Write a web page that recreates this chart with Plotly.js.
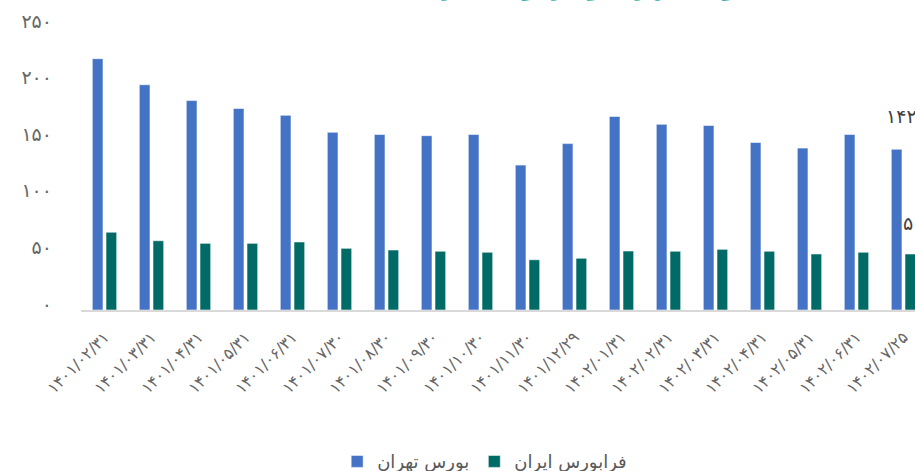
<!DOCTYPE html>
<html>
<head>
<meta charset="utf-8">
<script src="https://cdn.plot.ly/plotly-3.0.1.min.js"></script>
<style>html,body{margin:0;padding:0;background:#fff;}#chart{width:915px;height:471px;}</style>
</head>
<body>
<div id="chart"></div>
<script>
// Categories (dates, Persian calendar)
const categories = [
  "۱۴۰۱/۰۲/۳۱","۱۴۰۱/۰۳/۳۱","۱۴۰۱/۰۴/۳۱","۱۴۰۱/۰۵/۳۱","۱۴۰۱/۰۶/۳۱","۱۴۰۱/۰۷/۳۰",
  "۱۴۰۱/۰۸/۳۰","۱۴۰۱/۰۹/۳۰","۱۴۰۱/۱۰/۳۰","۱۴۰۱/۱۱/۳۰","۱۴۰۱/۱۲/۲۹","۱۴۰۲/۰۱/۳۱",
  "۱۴۰۲/۰۲/۳۱","۱۴۰۲/۰۳/۳۱","۱۴۰۲/۰۴/۳۱","۱۴۰۲/۰۵/۳۱","۱۴۰۲/۰۶/۳۱","۱۴۰۲/۰۷/۲۵"
];
// Series values
const bourseTehran = [222, 199, 185, 178, 172, 157, 155, 154, 155, 128, 147, 171, 164, 163, 148, 143, 155, 142];
const faraBourse   = [68.7, 61.2, 58.9, 58.9, 60.1, 54.5, 53, 51.9, 51, 44.4, 45.7, 52.1, 51.9, 53.6, 51.9, 49.5, 51, 49.5];
// Series names
const seriesNames = ["بورس تهران", "فرابورس ایران"];
// Y tick values and labels
const yTickVals = [0, 50, 100, 150, 200, 250];
const yTickText = ["۰", "۵۰", "۱۰۰", "۱۵۰", "۲۰۰", "۲۵۰"];
// Visible data labels for last point
const lastLabels = ["۱۴۲", "۵۰"];
const titleText = "ارزش بازار بورس تهران و فرابورس ایران";

const idx = categories.map((_, i) => i);
const font = "DejaVu Sans, Noto Sans, sans-serif";

const traces = [
  {type: "bar", name: seriesNames[0], x: idx, y: bourseTehran,
   marker: {color: "#4472C4", line: {color: "rgba(255,255,255,0.55)", width: 1}}, hoverinfo: "skip"},
  {type: "bar", name: seriesNames[1], x: idx, y: faraBourse,
   marker: {color: "#006B66", line: {color: "rgba(255,255,255,0.55)", width: 1}}, hoverinfo: "skip"}
];

const last = categories.length - 1;
const layout = {
  width: 915, height: 471,
  margin: {l: 81, r: 0, t: 27, b: 161, autoexpand: false},
  paper_bgcolor: "#fff", plot_bgcolor: "#fff",
  barmode: "group", bargap: 0.417, bargroupgap: 0.22,
  showlegend: true,
  legend: {orientation: "h", x: 0.484, xanchor: "center", y: -0.536, yanchor: "middle",
           font: {family: font, size: 18, color: "#595959"}, traceorder: "normal"},
  xaxis: {
    range: [-0.5, 17.245], tickmode: "array", tickvals: idx, ticktext: categories,
    tickangle: -45, showgrid: false, zeroline: false, showline: true,
    linecolor: "#D9D9D9", linewidth: 1.5, ticks: "", ticklabelstandoff: 10,
    tickfont: {family: font, size: 16, color: "#666666"}
  },
  yaxis: {
    range: [0, 250], tickmode: "array", tickvals: yTickVals, ticktext: yTickText,
    showgrid: false, zeroline: false, showline: false, ticks: "",
    ticklabelstandoff: 28, ticklabelshift: -6,
    tickfont: {family: font, size: 19, color: "#666666"}
  },
  annotations: [
    {xref: "x", yref: "y", x: last, y: bourseTehran[last], text: lastLabels[0], showarrow: false,
     xanchor: "left", yanchor: "middle", xshift: -19, yshift: 33,
     font: {family: font, size: 19, color: "#404040"}},
    {xref: "x", yref: "y", x: last, y: faraBourse[last], text: lastLabels[1], showarrow: false,
     xanchor: "left", yanchor: "middle", xshift: -2, yshift: 31,
     font: {family: font, size: 19, color: "#404040"}},
    {xref: "paper", yref: "paper", x: 1.0, y: 1.06, text: "<b>" + titleText + "</b>", showarrow: false,
     xanchor: "right", yanchor: "bottom", xshift: -40, yshift: 7,
     font: {family: font, size: 22, color: "#17A2A2"}}
  ]
};

Plotly.newPlot("chart", traces, layout, {displayModeBar: false, staticPlot: true});
</script>
</body>
</html>
